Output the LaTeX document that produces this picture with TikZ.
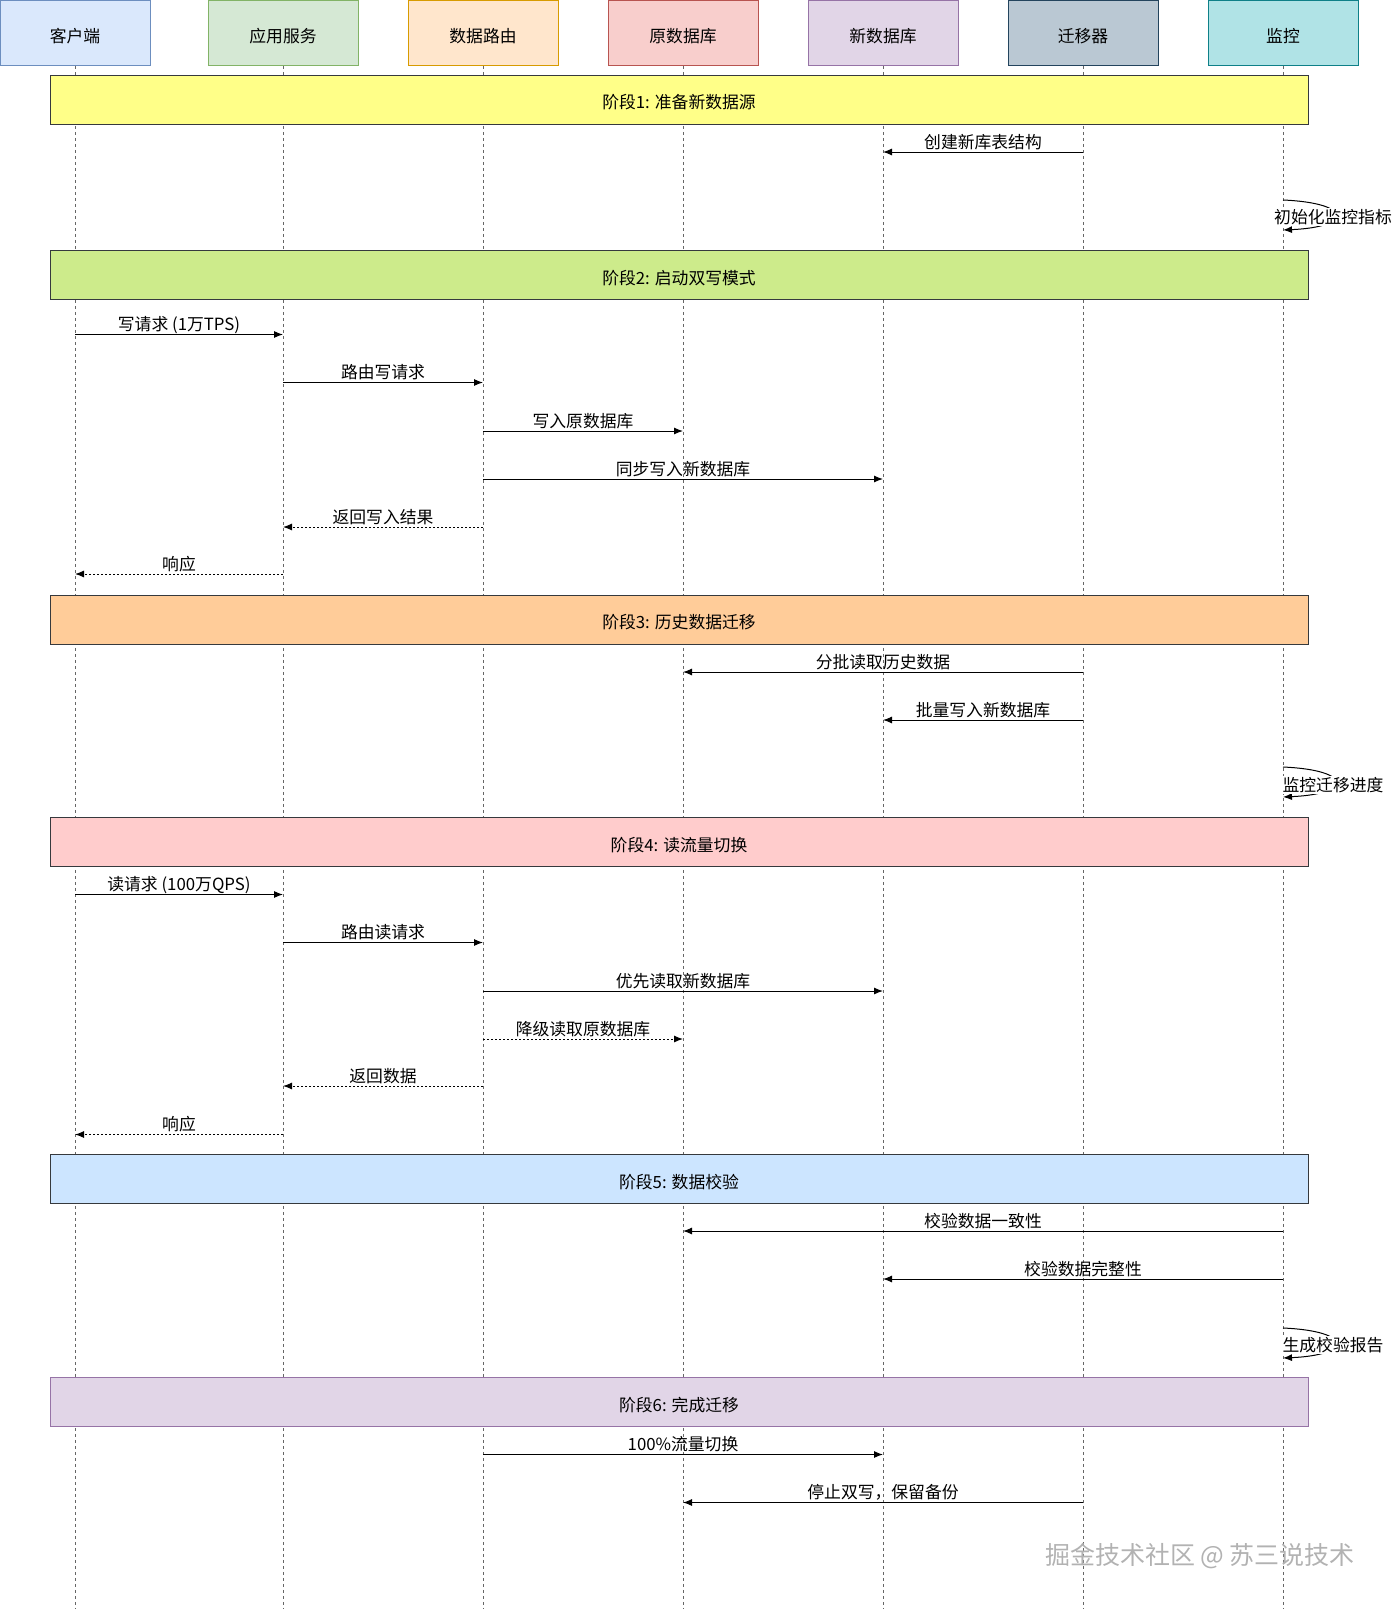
\documentclass[tikz,border=0pt]{standalone}
\usepackage{fontspec}
\setmainfont{Noto Sans CJK SC}
\usetikzlibrary{arrows.meta}

\definecolor{cliFill}{HTML}{DAE8FC}\definecolor{cliLine}{HTML}{6C8EBF}
\definecolor{appFill}{HTML}{D5E8D4}\definecolor{appLine}{HTML}{82B366}
\definecolor{rtrFill}{HTML}{FFE6CC}\definecolor{rtrLine}{HTML}{D79B00}
\definecolor{odbFill}{HTML}{F8CECC}\definecolor{odbLine}{HTML}{B85450}
\definecolor{ndbFill}{HTML}{E1D5E7}\definecolor{ndbLine}{HTML}{9673A6}
\definecolor{migFill}{HTML}{BAC8D3}\definecolor{migLine}{HTML}{23445D}
\definecolor{monFill}{HTML}{B0E3E6}\definecolor{monLine}{HTML}{0E8088}
\definecolor{phLine}{HTML}{36393D}
\definecolor{lifeGray}{HTML}{666666}

\begin{document}
\begin{tikzpicture}[x=1pt,y=-1pt,
  every node/.style={font=\fontsize{16.8pt}{20pt}\selectfont},
  actor/.style={line width=1pt, minimum width=150pt, minimum height=65pt, inner sep=0pt, text height=22pt, text depth=3.5pt},
  phase/.style={draw=phLine, line width=1pt, minimum width=1258pt, minimum height=49pt, inner sep=0pt, text height=22pt, text depth=3.5pt},
  life/.style={draw=lifeGray, line width=0.8pt, dash pattern=on 3pt off 3pt},
  msg/.style={line width=1pt, -{Latex[length=9pt,width=7pt]}},
  reply/.style={msg, dash pattern=on 2pt off 2pt},
  lbl/.style={anchor=base, yshift=4pt, inner sep=0pt},
  selflbl/.style={fill=white, inner sep=1pt}]
  \useasboundingbox (0,0) rectangle (1395,1609);

  \node[actor, fill=cliFill, draw=cliLine] (cli) at (75,32.75) {客户端};
  \node[actor, fill=appFill, draw=appLine] (app) at (283,32.75) {应用服务};
  \node[actor, fill=rtrFill, draw=rtrLine] (rtr) at (483,32.75) {数据路由};
  \node[actor, fill=odbFill, draw=odbLine] (odb) at (683,32.75) {原数据库};
  \node[actor, fill=ndbFill, draw=ndbLine] (ndb) at (883,32.75) {新数据库};
  \node[actor, fill=migFill, draw=migLine] (mig) at (1083,32.75) {迁移器};
  \node[actor, fill=monFill, draw=monLine] (mon) at (1283,32.75) {监控};

  \draw[life] (cli.south) -- (cli |- 0,1609);
  \draw[life] (app.south) -- (app |- 0,1609);
  \draw[life] (rtr.south) -- (rtr |- 0,1609);
  \draw[life] (odb.south) -- (odb |- 0,1609);
  \draw[life] (ndb.south) -- (ndb |- 0,1609);
  \draw[life] (mig.south) -- (mig |- 0,1609);
  \draw[life] (mon.south) -- (mon |- 0,1609);

  \node[phase, fill={rgb,255:red,255;green,255;blue,136}] (ph1) at (679,99.5) {阶段1: 准备新数据源};
  \node[phase, fill={rgb,255:red,205;green,235;blue,139}] (ph2) at (679,275) {阶段2: 启动双写模式};
  \node[phase, fill={rgb,255:red,255;green,204;blue,153}] (ph3) at (679,619.5) {阶段3: 历史数据迁移};
  \node[phase, fill={rgb,255:red,255;green,204;blue,204}] (ph4) at (679,842) {阶段4: 读流量切换};
  \node[phase, fill={rgb,255:red,204;green,229;blue,255}] (ph5) at (679,1179) {阶段5: 数据校验};
  \node[phase, fill=ndbFill, draw=ndbLine] (ph6) at (679,1402) {阶段6: 完成迁移};

  \draw[msg] (mig |- 0,152) -- (ndb |- 0,152) node[lbl, midway] {创建新库表结构};
  \draw[msg] (mon |- 0,200) .. controls +(70,3) and +(70,-3) .. (mon |- 0,230);
  \node[selflbl] (s1) at (1333,217) {初始化监控指标};

  \draw[msg] (cli |- 0,334.5) -- (app |- 0,334.5) node[lbl, midway] {写请求 (1万TPS)};
  \draw[msg] (app |- 0,382.5) -- (rtr |- 0,382.5) node[lbl, midway] {路由写请求};
  \draw[msg] (rtr |- 0,431) -- (odb |- 0,431) node[lbl, midway] {写入原数据库};
  \draw[msg] (rtr |- 0,479) -- (ndb |- 0,479) node[lbl, midway] {同步写入新数据库};
  \draw[reply] (rtr |- 0,527) -- (app |- 0,527) node[lbl, midway] {返回写入结果};
  \draw[reply] (app |- 0,574) -- (cli |- 0,574) node[lbl, midway] {响应};

  \draw[msg] (mig |- 0,672) -- (odb |- 0,672) node[lbl, midway] {分批读取历史数据};
  \draw[msg] (mig |- 0,720) -- (ndb |- 0,720) node[lbl, midway] {批量写入新数据库};
  \draw[msg] (mon |- 0,767) .. controls +(70,3) and +(70,-3) .. (mon |- 0,797);
  \node[selflbl] (s2) at (1333,785) {监控迁移进度};

  \draw[msg] (cli |- 0,894.5) -- (app |- 0,894.5) node[lbl, midway] {读请求 (100万QPS)};
  \draw[msg] (app |- 0,942.5) -- (rtr |- 0,942.5) node[lbl, midway] {路由读请求};
  \draw[msg] (rtr |- 0,991) -- (ndb |- 0,991) node[lbl, midway] {优先读取新数据库};
  \draw[reply] (rtr |- 0,1039) -- (odb |- 0,1039) node[lbl, midway] {降级读取原数据库};
  \draw[reply] (rtr |- 0,1086) -- (app |- 0,1086) node[lbl, midway] {返回数据};
  \draw[reply] (app |- 0,1134.5) -- (cli |- 0,1134.5) node[lbl, midway] {响应};

  \draw[msg] (mon |- 0,1231) -- (odb |- 0,1231) node[lbl, midway] {校验数据一致性};
  \draw[msg] (mon |- 0,1279) -- (ndb |- 0,1279) node[lbl, midway] {校验数据完整性};
  \draw[msg] (mon |- 0,1328) .. controls +(70,3) and +(70,-3) .. (mon |- 0,1358);
  \node[selflbl] (s3) at (1333,1345) {生成校验报告};

  \draw[msg] (rtr |- 0,1454.5) -- (ndb |- 0,1454.5) node[lbl, midway] {100\%流量切换};
  \draw[msg] (mig |- 0,1502.5) -- (odb |- 0,1502.5) node[lbl, midway] {停止双写，保留备份};

  \node[text=gray!60, font=\fontsize{25pt}{28pt}\selectfont] (wm) at (1200,1556) {掘金技术社区 @ 苏三说技术};
\end{tikzpicture}
\end{document}
